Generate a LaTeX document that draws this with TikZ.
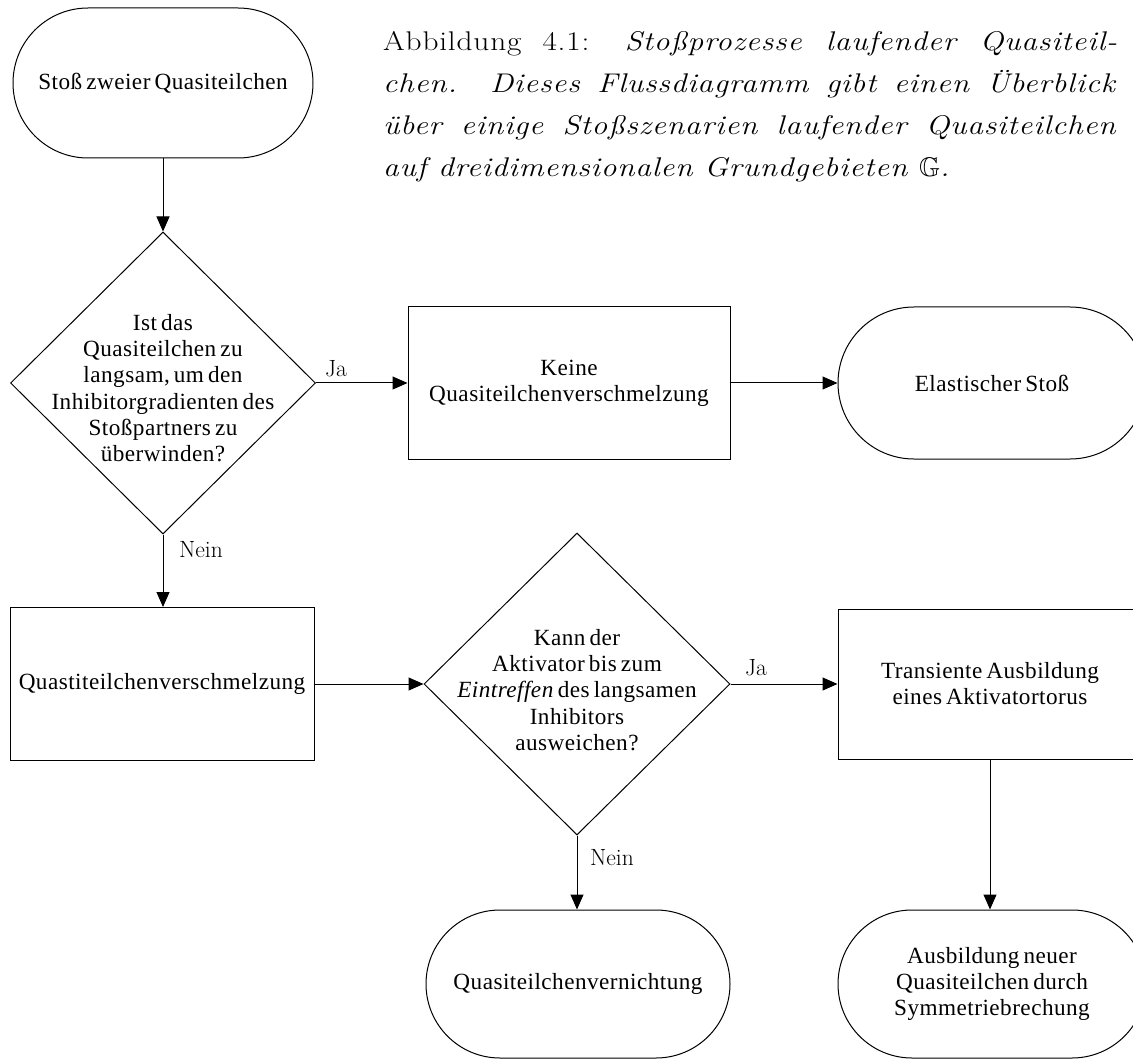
\documentclass[tikz,border=0pt]{standalone}
\usepackage{amssymb}
\usepackage{fontspec}
\newfontfamily\nodefont[WordSpace=0.65,LetterSpace=2]{Liberation Serif}
\newfontfamily\capfont[LetterSpace=3,FakeStretch=1.16]{Latin Modern Roman}
\usetikzlibrary{shapes.geometric,shapes.misc,arrows.meta}
\begin{document}
\begin{tikzpicture}[x=1pt,y=-1pt,
  base/.style={draw=black,line width=1pt,inner sep=0pt,align=center,
    font=\nodefont\fontsize{23.2}{26}\selectfont},
  term/.style={base,rounded rectangle,minimum height=#1},
  term/.default=150pt,
  procbox/.style={base,rectangle},
  decision/.style={draw=black,line width=1pt,diamond,inner sep=0pt},
  dtext/.style={inner sep=0pt,align=center,font=\nodefont\fontsize{23.2}{26.3}\selectfont},
  lbl/.style={inner sep=0pt,font=\fontsize{23.5}{26}\selectfont},
  conn/.style={line width=1pt,-{Triangle[length=15pt,width=13pt]}}]
\useasboundingbox (0,0) rectangle (1133,1059);

% caption
\node[anchor=north west,inner sep=0pt,text width=734pt,align=justify,
  font=\capfont\fontsize{27}{42}\selectfont] (cap) at (383,31)
  {Abbildung 4.1: \textit{Stoßprozesse laufender Quasiteil-}\linebreak
   \textit{chen. Dieses Flussdiagramm gibt einen Überblick}\linebreak
   \textit{über einige Stoßszenarien laufender Quasiteilchen}\linebreak
   \textit{auf dreidimensionalen Grundgebieten $\mathbb{G}$.}};

% nodes
\node[term,minimum width=300pt] (start) at (163,83) {Stoß zweier Quasiteilchen};
\node[decision,minimum width=305pt,minimum height=302pt] (d1) at (163,383) {};
\node[dtext] (d1t) at (163,388) {Ist das\\Quasiteilchen zu\\langsam, um den\\Inhibitorgradienten des\\Stoßpartners zu\\überwinden?};
\node[procbox,minimum width=322pt,minimum height=152pt] (keine) at (569,383) {Keine\\Quasiteilchenverschmelzung};
\node[term=152pt,minimum width=308pt] (elast) at (992,383) {Elastischer Stoß};
\node[procbox,minimum width=304pt,minimum height=153pt] (quast) at (162,684) {Quastiteilchenverschmelzung};
\node[decision,minimum width=306pt,minimum height=302pt] (d2) at (577,684) {};
\node[dtext] (d2t) at (577,690) {Kann der\\Aktivator bis zum\\\textit{Eintreffen} des langsamen\\Inhibitors\\ausweichen?};
\node[procbox,minimum width=304pt,minimum height=150pt] (trans) at (990,684) {Transiente Ausbildung\\eines Aktivatortorus};
\node[term=148pt,minimum width=304pt] (vern) at (578,984) {Quasiteilchenvernichtung};
\node[term=148pt,minimum width=308pt] (ausb) at (992,984) {Ausbildung neuer\\Quasiteilchen durch\\Symmetriebrechung};

% connectors
\draw[conn] (start.south) -- (d1.north);
\draw[conn] (d1.east) -- (keine.west);
\draw[conn] (keine.east) -- (elast.west);
\draw[conn] (d1.south) -- (d1.south |- quast.north);
\draw[conn] (quast.east) -- (d2.west);
\draw[conn] (d2.east) -- (trans.west);
\draw[conn] (d2.south) -- (d2.south |- vern.north);
\draw[conn] (trans.south) -- (trans.south |- ausb.north);

% labels
\node[lbl] (ja1) at (336,369) {Ja};
\node[lbl] (nein1) at (201,550) {Nein};
\node[lbl] (ja2) at (756,668) {Ja};
\node[lbl] (nein2) at (612,858) {Nein};
\end{tikzpicture}
\end{document}
